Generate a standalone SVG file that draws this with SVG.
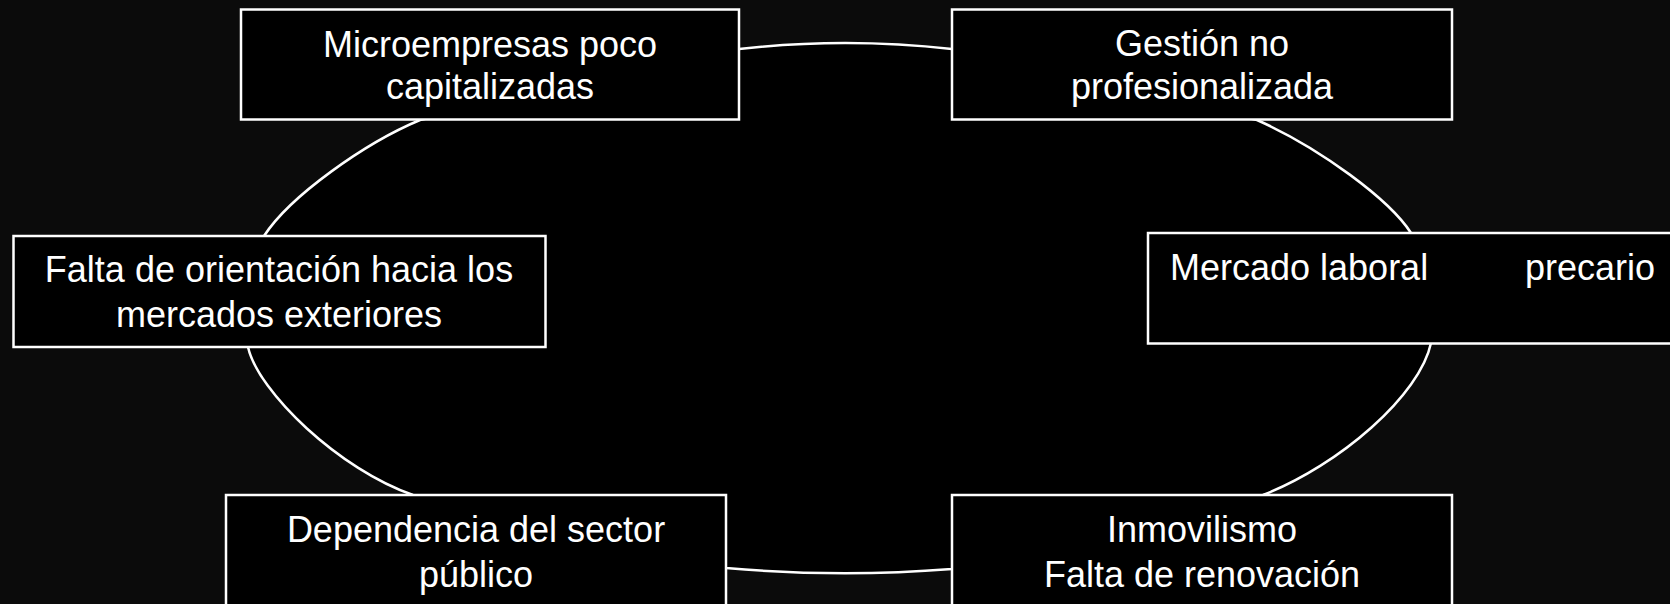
<svg xmlns="http://www.w3.org/2000/svg" width="1670" height="604" viewBox="0 0 1670 604">
<style>
.box{fill:#000;stroke:#fff;stroke-width:2.5}
.lbl{font-family:"Liberation Sans",Arial,sans-serif;font-size:36px;fill:#fff}
.c{text-anchor:middle}
.ring{fill:#000;stroke:#fff;stroke-width:2.5}
</style>
<rect width="1670" height="604" fill="#0b0b0b"/>
<g id="connectors">
<path class="ring" d="M739,49 Q845,37 952,49 L1257,120 C1320,148 1390,200 1411,233 L1431,343 C1420,395 1340,465 1263,495 L952,569 Q839,578 726,568 L413,495 C340,470 258,392 248,347 L264,236 C290,196 365,143 420,120 Z"/>
</g>
<g id="n1">
<rect class="box" x="241" y="9.5" width="498" height="110"/>
<text class="lbl c" x="490" y="57">Microempresas poco</text>
<text class="lbl c" x="490" y="99">capitalizadas</text>
</g>
<g id="n2">
<rect class="box" x="952" y="9.5" width="500" height="110"/>
<text class="lbl c" x="1202" y="56">Gestión no</text>
<text class="lbl c" x="1202" y="99">profesionalizada</text>
</g>
<g id="n3">
<rect class="box" x="13.5" y="236" width="532" height="111"/>
<text class="lbl c" x="279" y="282">Falta de orientación hacia los</text>
<text class="lbl c" x="279" y="327">mercados exteriores</text>
</g>
<g id="n4">
<rect class="box" x="1148" y="233" width="540" height="110.5"/>
<text class="lbl" x="1170" y="280">Mercado laboral</text>
<text class="lbl" x="1525" y="280">precario</text>
</g>
<g id="n5">
<rect class="box" x="226" y="495" width="500" height="130"/>
<text class="lbl c" x="476" y="542">Dependencia del sector</text>
<text class="lbl c" x="476" y="587">público</text>
</g>
<g id="n6">
<rect class="box" x="952" y="495" width="500" height="130"/>
<text class="lbl c" x="1202" y="542">Inmovilismo</text>
<text class="lbl c" x="1202" y="587">Falta de renovación</text>
</g>
</svg>
